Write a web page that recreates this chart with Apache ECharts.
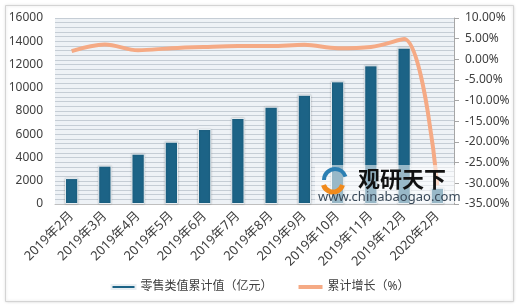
<!DOCTYPE html>
<html><head><meta charset="utf-8">
<script src="https://cdn.jsdelivr.net/npm/echarts@6/dist/echarts.min.js"></script>
<style>html,body{margin:0;padding:0;background:#fff}#c{width:520px;height:307px}</style>
</head><body><div id="c"></div>
<script>
var categories = ['2019年2月','2019年3月','2019年4月','2019年5月','2019年6月','2019年7月','2019年8月','2019年9月','2019年10月','2019年11月','2019年12月','2020年2月'];
var retailValues = [2230, 3300, 4330, 5360, 6450, 7400, 8370, 9400, 10550, 11930, 13450, 1400];
var growthValues = [2.0, 3.6, 2.2, 2.7, 3.0, 3.2, 3.2, 3.5, 2.7, 3.0, 4.9, -30.5];
var leftTicks = [0, 16000, 2000];
var rightTicks = [-35, 10, 5];
var seriesNames = ['零售类值累计值（亿元）', '累计增长（%）'];

var chart = echarts.init(document.getElementById('c'), null, {renderer:'canvas'});
var font = 'Noto Sans, Noto Sans CJK SC, sans-serif';
chart.setOption({
  animation: false,
  textStyle: {fontFamily: font},
  graphic: [
    {type:'rect', z:-10, shape:{x:5.5,y:5.5,width:508,height:296}, style:{fill:'#fff', stroke:'#D4D4D4', lineWidth:1, shadowBlur:3, shadowColor:'rgba(0,0,0,0.15)'}},
    {type:'rect', z:50, shape:{x:315,y:165,width:140,height:38}, style:{fill:'rgba(255,255,255,0.55)'}},
    {type:'arc', z:51, shape:{cx:335,cy:180,r:11,startAngle:Math.PI*1.0,endAngle:Math.PI*1.9}, style:{stroke:'#2B7FB3', lineWidth:4, fill:null}},
    {type:'arc', z:51, shape:{cx:333,cy:182,r:10,startAngle:Math.PI*0.1,endAngle:Math.PI*0.9}, style:{stroke:'#F08A1C', lineWidth:5, fill:null}},
    {type:'text', z:52, left:358, top:168, style:{text:'观研天下', font:'bold 22px "Noto Sans CJK SC"', fill:'#111'}},
    {type:'text', z:52, left:318, top:191, style:{text:'www.chinabaogao.com', font:'13px "Noto Sans", sans-serif', fill:'#3a4a5a'}}
  ],
  grid: {left:55, right:66, top:18, bottom:103, show:true, backgroundColor:'#EEF2F6', borderWidth:0},
  legend: {
    bottom: 10, left: 'center',
    itemGap: 26,
    backgroundColor:'#fff',
    padding:[4,10],
    textStyle:{fontSize:12, color:'#404040', fontFamily:font},
    data: [
      {name: seriesNames[0], icon:'rect'},
      {name: seriesNames[1], icon:'rect'}
    ],
    itemWidth: 24, itemHeight: 4
  },
  xAxis: {
    type:'category', data: categories,
    axisLine:{lineStyle:{color:'#BFBFBF'}},
    axisTick:{show:false},
    axisLabel:{rotate:45, fontSize:13, color:'#404040', interval:0, margin:10}
  },
  yAxis: [
    {type:'value', min:leftTicks[0], max:leftTicks[1], interval:leftTicks[2],
     axisLine:{show:false}, axisTick:{show:false},
     axisLabel:{fontSize:12, color:'#404040', margin:12, formatter:function(v){return String(v);}},
     splitLine:{lineStyle:{color:'#C5CDD5', width:1}},
     minorTick:{show:false, splitNumber:5},
     minorSplitLine:{show:true, lineStyle:{color:'#C5CDD5', width:1}}
    },
    {type:'value', min:rightTicks[0], max:rightTicks[1], interval:rightTicks[2],
     position:'right',
     axisLine:{show:true, lineStyle:{color:'#A6A6A6'}},
     axisTick:{show:true, length:5, lineStyle:{color:'#A6A6A6'}},
     axisLabel:{fontSize:12, color:'#404040', margin:11, formatter:function(v){return v.toFixed(2)+'%';}},
     splitLine:{show:false}
    }
  ],
  series: [
    {name:seriesNames[0], type:'bar', data:retailValues, yAxisIndex:0, barWidth:'40%',
     itemStyle:{color:'#1C6386', borderColor:'#E8EEF2', borderWidth:1, shadowBlur:2, shadowColor:'rgba(0,0,0,0.2)'}},
    {name:seriesNames[1], type:'line', data:growthValues, yAxisIndex:1, smooth:0.35,
     symbol:'none', lineStyle:{color:'#F5AA85', width:4}, itemStyle:{color:'#F5AA85'}}
  ]
});
</script></body></html>
